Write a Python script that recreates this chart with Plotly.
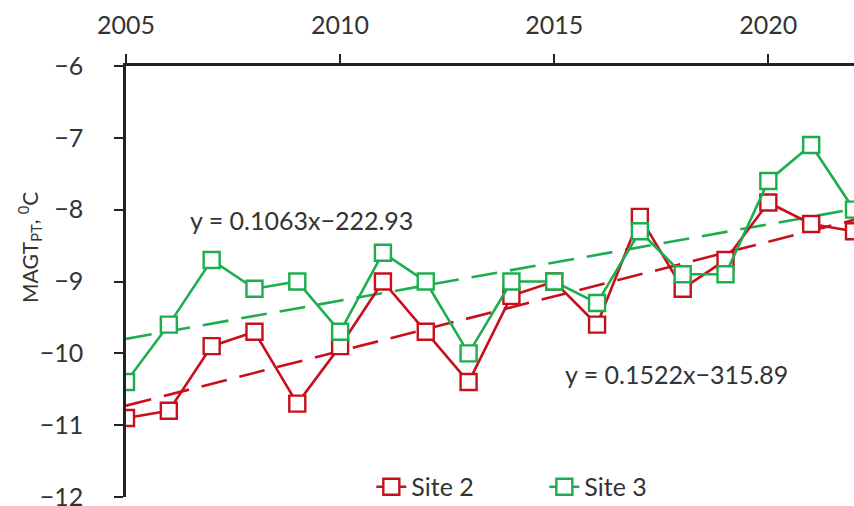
import plotly.graph_objects as go

# Annual mean ground temperature at the permafrost table
years = list(range(2005, 2023))
site2 = [-10.9, -10.8, -9.9, -9.7, -10.7, -9.9, -9.0, -9.7, -10.4, -9.2,
         -9.0, -9.6, -8.1, -9.1, -8.7, -7.9, -8.2, -8.3]
site3 = [-10.4, -9.6, -8.7, -9.1, -9.0, -9.7, -8.6, -9.0, -10.0, -9.0,
         -9.0, -9.3, -8.3, -8.9, -8.9, -7.6, -7.1, -8.0]

# Linear trend coefficients (slope, intercept)
trend2 = (0.1522, -315.89)
trend3 = (0.1063, -222.93)

y_ticks = [-12, -11, -10, -9, -8, -7, -6]
y_tick_labels = ["\u221212", "\u221211", "\u221210", "\u22129", "\u22128", "\u22127", "\u22126"]
x_ticks = [2005, 2010, 2015, 2020]

RED = "#C8101C"
GREEN = "#1CAE4E"
TEXT = "#333333"
AXIS = "#222222"
FONT = "Lato"

fig = go.Figure()


def trend_line(coef):
    a, b = coef
    return [a * y + b for y in years]


fig.add_trace(go.Scatter(
    x=years, y=trend_line(trend2), mode="lines", showlegend=False,
    line=dict(color=RED, width=2.6, dash="26px,13px"), hoverinfo="skip"))
fig.add_trace(go.Scatter(
    x=years, y=trend_line(trend3), mode="lines", showlegend=False,
    line=dict(color=GREEN, width=2.6, dash="26px,13px"), hoverinfo="skip"))

fig.add_trace(go.Scatter(
    x=years, y=site2, mode="lines+markers", name="Site 2",
    line=dict(color=RED, width=2.6),
    marker=dict(symbol="square", size=16, color="white",
                line=dict(color=RED, width=2.4))))
fig.add_trace(go.Scatter(
    x=years, y=site3, mode="lines+markers", name="Site 3",
    line=dict(color=GREEN, width=2.6),
    marker=dict(symbol="square", size=16, color="white",
                line=dict(color=GREEN, width=2.4))))

fig.add_annotation(x=2009.1, y=-8.15, xref="x", yref="y",
                   text="y = 0.1063x\u2212222.93", showarrow=False,
                   font=dict(family=FONT, size=25, color=TEXT))
fig.add_annotation(x=2017.85, y=-10.29, xref="x", yref="y",
                   text="y = 0.1522x\u2212315.89", showarrow=False,
                   font=dict(family=FONT, size=25, color=TEXT))

# Y-axis title, placed slightly above the vertical centre of the axis
fig.add_annotation(x=(30 - 126) / 728, xref="paper", xanchor="center",
                   y=0.578, yref="paper", yanchor="middle",
                   text="MAGT<sub>PT</sub>, <sup>0</sup>C", textangle=-90,
                   showarrow=False,
                   font=dict(family=FONT, size=21, color=TEXT))

fig.update_layout(
    width=854, height=506,
    margin=dict(l=126, r=0, t=66, b=9, autoexpand=False),
    paper_bgcolor="white", plot_bgcolor="white",
    font=dict(family=FONT, color=TEXT, size=25),
    legend=dict(orientation="h", x=0.337, xanchor="left",
                y=-0.03, yanchor="bottom",
                bgcolor="rgba(0,0,0,0)",
                font=dict(size=25, color=TEXT),
                entrywidth=128, entrywidthmode="pixels"),
    xaxis=dict(range=[2005, 2022], side="top", tickvals=x_ticks,
               showline=True, linecolor=AXIS, linewidth=2.5,
               ticks="outside", ticklen=9, tickwidth=2, tickcolor=AXIS,
               showgrid=False, zeroline=False, ticklabelstandoff=10,
               ticklabeloverflow="allow",
               tickfont=dict(size=25, color=TEXT)),
    yaxis=dict(range=[-12, -6], tickvals=y_ticks, ticktext=y_tick_labels,
               showline=True, linecolor=AXIS, linewidth=2.5,
               ticks="outside", ticklen=9, tickwidth=2, tickcolor=AXIS,
               showgrid=False, zeroline=False, ticklabelstandoff=26,
               ticklabeloverflow="allow",
               tickfont=dict(size=25, color=TEXT)),
)

fig.write_html("out.html")
